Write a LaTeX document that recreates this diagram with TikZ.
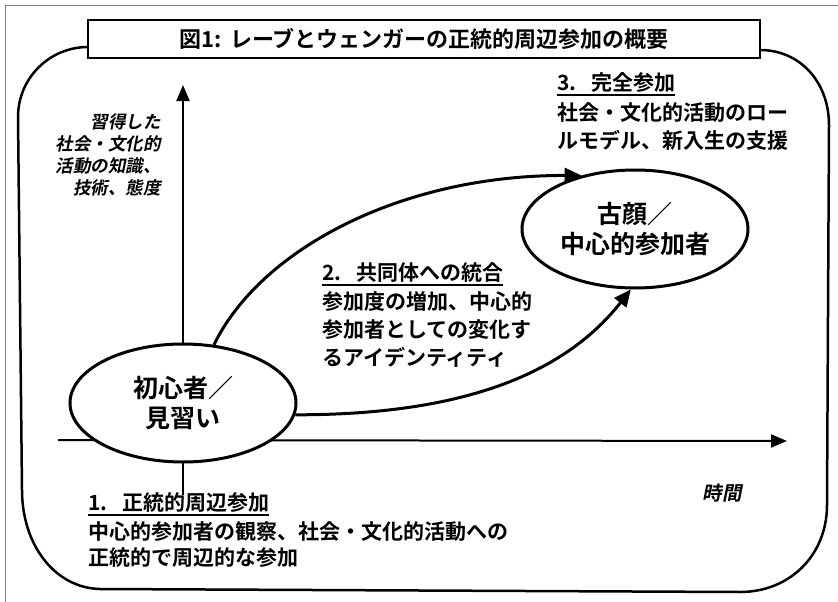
\documentclass[tikz,border=0pt]{standalone}
\usepackage{fontspec}
\setmainfont{Noto Sans CJK JP}[BoldFont={Noto Sans CJK JP Bold}]
\newfontfamily\jpit{Noto Sans CJK JP Bold}[FakeSlant=0.2]
\usetikzlibrary{arrows.meta,shapes.geometric}
\begin{document}
\begin{tikzpicture}[x=1pt,y=-1pt,
  txt/.style={inner sep=0pt, anchor=west, font=\bfseries\fontsize{21}{28}\selectfont},
  ylab/.style={inner sep=0pt, anchor=east, font=\jpit\fontsize{17.5}{22}\selectfont},
  stage/.style={ellipse, draw, line width=3pt, fill=white, inner sep=0pt,
    minimum width=226pt, minimum height=118pt, align=center,
    font=\bfseries\fontsize{25}{30}\selectfont},
  axis/.style={line width=2pt, -{Triangle[length=16pt,width=13pt]}},
  flow/.style={line width=3pt, -{Triangle[length=17pt,width=15pt]}},
  uline/.style={line width=2pt, black},
  outline/.style={line width=2.5pt}]
\useasboundingbox (0,0) rectangle (838,602);
% outer frame
\draw[gray, line width=0.8pt] (5,602) -- (5,5) -- (838,5);
% rounded outline
\draw[outline] (88,47) .. controls (49.3,47) and (18,78.3) .. (18,117)
  -- (22,490) .. controls (22,545) and (55,588) .. (100,589)
  -- (740,592) .. controls (790,592) and (827,555) .. (827,505)
  -- (829,125) .. controls (829,82) and (800,50) .. (760,50);
% title
\node[draw, line width=2pt, fill=white, minimum width=672pt, minimum height=38pt,
  inner sep=0pt, font=\bfseries\fontsize{22}{26}\selectfont] (title) at (424,39)
  {図1:\hspace{0.4em}レーブとウェンガーの正統的周辺参加の概要};
% axes
\coordinate (yb) at (183,495);
\coordinate (yt) at (183,85);
\coordinate (xl) at (58,440);
\coordinate (xr) at (787,441);
\draw[axis] (yb) -- (yt);
\draw[axis] (xl) -- (xr);
% stages
\node[stage] (nov) at (183,403) {初心者／\\見習い};
\node[stage] (vet) at (635,229) {古顔／\\中心的参加者};
% flows
\draw[flow] (nov.62) .. controls (260,250) and (400,175) .. (vet.135);
\draw[flow] (nov.-6) .. controls (450,415) and (560,380) .. (vet.266);
% axis labels
\node[ylab] (ya) at (161,122) {習得した};
\node[ylab] (yb2) at (161,144) {社会・文化的};
\node[ylab] (yc) at (161,166) {活動の知識、};
\node[ylab] (yd) at (161,188) {技術、態度};
\node[inner sep=0pt, font=\jpit\fontsize{19.5}{22}\selectfont] (time) at (722,493) {時間};
% stage 3
\node[txt] (s3a) at (557,83) {3.\hspace{0.7em}完全参加};
\coordinate (u3l) at ([yshift=-2pt]s3a.south west);
\coordinate (u3r) at ([yshift=-2pt]s3a.south east);
\draw[uline] (u3l) -- (u3r);
\node[txt] (s3b) at (557,113) {社会・文化的活動のロー};
\node[txt] (s3c) at (557,140) {ルモデル、新入生の支援};
% stage 2
\node[txt] (s2a) at (322,273) {2.\hspace{0.7em}共同体への統合};
\coordinate (u2l) at ([yshift=-2pt]s2a.south west);
\coordinate (u2r) at ([yshift=-2pt]s2a.south east);
\draw[uline] (u2l) -- (u2r);
\node[txt] (s2b) at (322,302) {参加度の増加、中心的};
\node[txt] (s2c) at (322,330) {参加者としての変化す};
\node[txt] (s2d) at (322,357) {るアイデンティティ};
% stage 1
\node[txt] (s1a) at (88,503) {1.\hspace{0.7em}正統的周辺参加};
\coordinate (u1l) at ([yshift=-2pt]s1a.south west);
\coordinate (u1r) at ([yshift=-2pt]s1a.south east);
\draw[uline] (u1l) -- (u1r);
\node[txt] (s1b) at (88,532) {中心的参加者の観察、社会・文化的活動への};
\node[txt] (s1c) at (88,558) {正統的で周辺的な参加};
\end{tikzpicture}
\end{document}
